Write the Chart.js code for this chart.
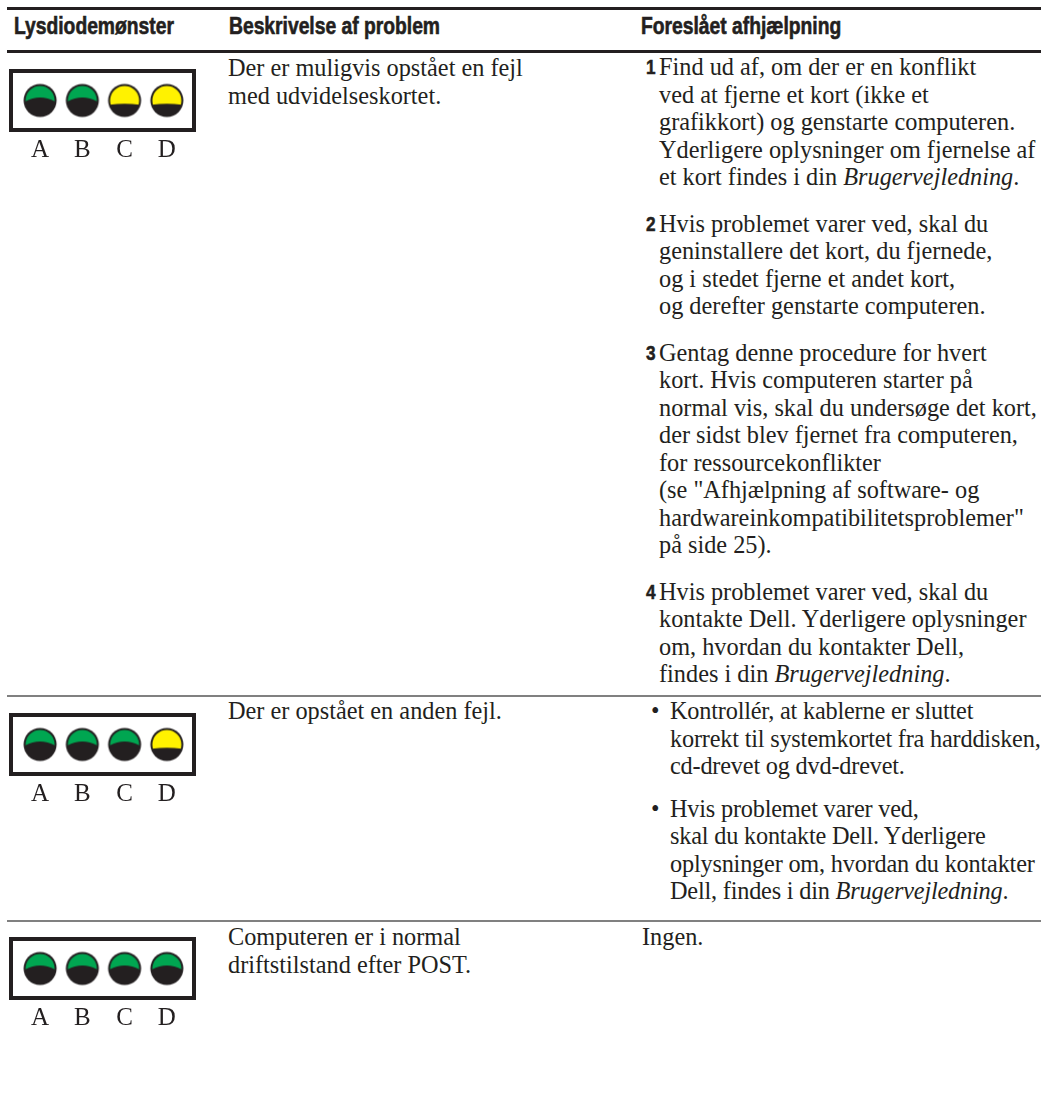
<!DOCTYPE html>
<html lang="da">
<head>
<meta charset="utf-8">
<title>Lysdiodemønster</title>
<script src="https://cdn.jsdelivr.net/npm/chart.js@4.4.1/dist/chart.umd.min.js"></script>
<style>
  html, body { margin: 0; padding: 0; background: #fff; }
  body {
    width: 1041px; height: 1094px; position: relative; overflow: hidden;
    color: #231f20; font-family: "Liberation Serif", "DejaVu Serif", serif; font-size: 24.3px;
  }
  .rule { position: absolute; left: 7px; right: 0; height: 3px; background: #231f20; }
  .sep { position: absolute; left: 7px; right: 0; height: 2px; background: #808080; }
  .head {
    position: absolute; top: 12px; line-height: 28px; white-space: nowrap;
    font-family: "Liberation Sans", Arial, sans-serif;
    font-weight: bold; font-size: 23.5px; -webkit-text-stroke: 0.6px #231f20;
    transform: scaleX(0.82); transform-origin: 0 0;
  }
  .txt { position: absolute; line-height: 27.5px; white-space: nowrap; }
  .txt p { margin: 0; position: relative; }
  .steps p { margin-bottom: 19px; }
  .bullets { letter-spacing: -0.2px; }
  .bullets p { margin-bottom: 15px; }
  .num {
    position: absolute; left: -13px; font-weight: bold; font-size: 21px;
    font-family: "Liberation Sans", Arial, sans-serif; -webkit-text-stroke: 0.5px #231f20;
    transform: scaleX(0.82); transform-origin: 0 0;
  }
  .dot { position: absolute; left: -19px; }
  .led { position: absolute; left: 0; width: 210px; height: 120px; }
</style>
</head>
<body>
  <div class="rule" style="top:7px"></div>
  <div class="head" style="left:14px">Lysdiodemønster</div>
  <div class="head" style="left:229px">Beskrivelse af problem</div>
  <div class="head" style="left:641px">Foreslået afhjælpning</div>
  <div class="rule" style="top:50px"></div>

  <!-- række 1 -->
  <div class="led" style="top:54px"><canvas id="led1"></canvas></div>
  <div class="txt" style="left:228px; top:54px">Der er muligvis opstået en fejl<br>med udvidelseskortet.</div>
  <div class="txt steps" style="left:659px; top:53px">
    <p><span class="num">1</span>Find ud af, om der er en konflikt<br>ved at fjerne et kort (ikke et<br>grafikkort) og genstarte computeren.<br>Yderligere oplysninger om fjernelse af<br>et kort findes i din <i>Brugervejledning</i>.</p>
    <p><span class="num">2</span>Hvis problemet varer ved, skal du<br>geninstallere det kort, du fjernede,<br>og i stedet fjerne et andet kort,<br>og derefter genstarte computeren.</p>
    <p><span class="num">3</span>Gentag denne procedure for hvert<br>kort. Hvis computeren starter på<br>normal vis, skal du undersøge det kort,<br>der sidst blev fjernet fra computeren,<br>for ressourcekonflikter<br>(se "Afhjælpning af software- og<br>hardwareinkompatibilitetsproblemer"<br>på side 25).</p>
    <p><span class="num">4</span>Hvis problemet varer ved, skal du<br>kontakte Dell. Yderligere oplysninger<br>om, hvordan du kontakter Dell,<br>findes i din <i>Brugervejledning</i>.</p>
  </div>
  <div class="sep" style="top:695px"></div>

  <!-- række 2 -->
  <div class="led" style="top:698px"><canvas id="led2"></canvas></div>
  <div class="txt" style="left:228px; top:697px">Der er opstået en anden fejl.</div>
  <div class="txt bullets" style="left:670px; top:697px">
    <p><span class="dot">•</span>Kontrollér, at kablerne er sluttet<br>korrekt til systemkortet fra harddisken,<br>cd-drevet og dvd-drevet.</p>
    <p><span class="dot">•</span>Hvis problemet varer ved,<br>skal du kontakte Dell. Yderligere<br>oplysninger om, hvordan du kontakter<br>Dell, findes i din <i>Brugervejledning</i>.</p>
  </div>
  <div class="sep" style="top:920px"></div>

  <!-- række 3 -->
  <div class="led" style="top:922px"><canvas id="led3"></canvas></div>
  <div class="txt" style="left:228px; top:923px">Computeren er i normal<br>driftstilstand efter POST.</div>
  <div class="txt" style="left:642px; top:923px">Ingen.</div>

<script>
// --- Données ---
const ledLabels = ['A', 'B', 'C', 'D'];
const ledLevel = [1, 1, 1, 1];
const row1Leds = ['green', 'green', 'yellow', 'yellow'];
const row2Leds = ['green', 'green', 'green', 'yellow'];
const row3Leds = ['green', 'green', 'green', 'green'];

const ink = '#231f20';
const ledColors = { green: '#00a651', yellow: '#fff200' };

// --- Dessin d'une diode (image utilisée comme pointStyle) ---
function makeLed(state) {
  const c = document.createElement('canvas');
  c.width = 36; c.height = 36;
  const g = c.getContext('2d');
  g.translate(18, 18);
  g.fillStyle = ink;
  g.beginPath(); g.arc(0, 0, 16.5, 0, Math.PI * 2); g.fill();
  g.save();
  g.beginPath(); g.arc(0, 0, 14.5, 0, Math.PI * 2); g.clip();
  g.fillStyle = ledColors[state];
  g.beginPath();
  if (state === 'green') {
    g.moveTo(-17, 2); g.quadraticCurveTo(0, -8, 17, 2);
  } else {
    g.moveTo(-17, 4.5); g.quadraticCurveTo(0, 2, 17, 4.5);
  }
  g.lineTo(17, -17); g.lineTo(-17, -17); g.closePath(); g.fill();
  g.restore();
  return c;
}
const ledImages = { green: makeLed('green'), yellow: makeLed('yellow') };

// --- Cadre autour des diodes ---
const boxPlugin = {
  id: 'ledBox',
  beforeDatasetsDraw(chart) {
    const { ctx, chartArea: a } = chart;
    ctx.save();
    ctx.lineWidth = 4;
    ctx.strokeStyle = ink;
    ctx.strokeRect(a.left - 8, a.top, a.right - a.left + 14, a.bottom - a.top);
    ctx.restore();
  }
};

function renderLeds(id, states) {
  new Chart(document.getElementById(id), {
    type: 'line',
    data: {
      labels: ledLabels,
      datasets: [{
        data: ledLevel,
        showLine: false,
        pointRadius: 16,
        pointStyle: c => ledImages[states[c.dataIndex]]
      }]
    },
    options: {
      responsive: true,
      maintainAspectRatio: false,
      animation: false,
      events: [],
      clip: false,
      layout: { padding: { left: 19, right: 22, top: 12, bottom: 9 } },
      plugins: { legend: { display: false }, tooltip: { enabled: false } },
      scales: {
        x: {
          offset: true,
          grid: { display: false, drawTicks: false },
          border: { display: false },
          afterFit: s => { s.height = 35; },
          ticks: { padding: 5, color: ink, font: { family: 'Liberation Serif', size: 25 } }
        },
        y: { display: false, min: 0, max: 2 }
      }
    },
    plugins: [boxPlugin]
  });
}

renderLeds('led1', row1Leds);
renderLeds('led2', row2Leds);
renderLeds('led3', row3Leds);
</script>
</body>
</html>
